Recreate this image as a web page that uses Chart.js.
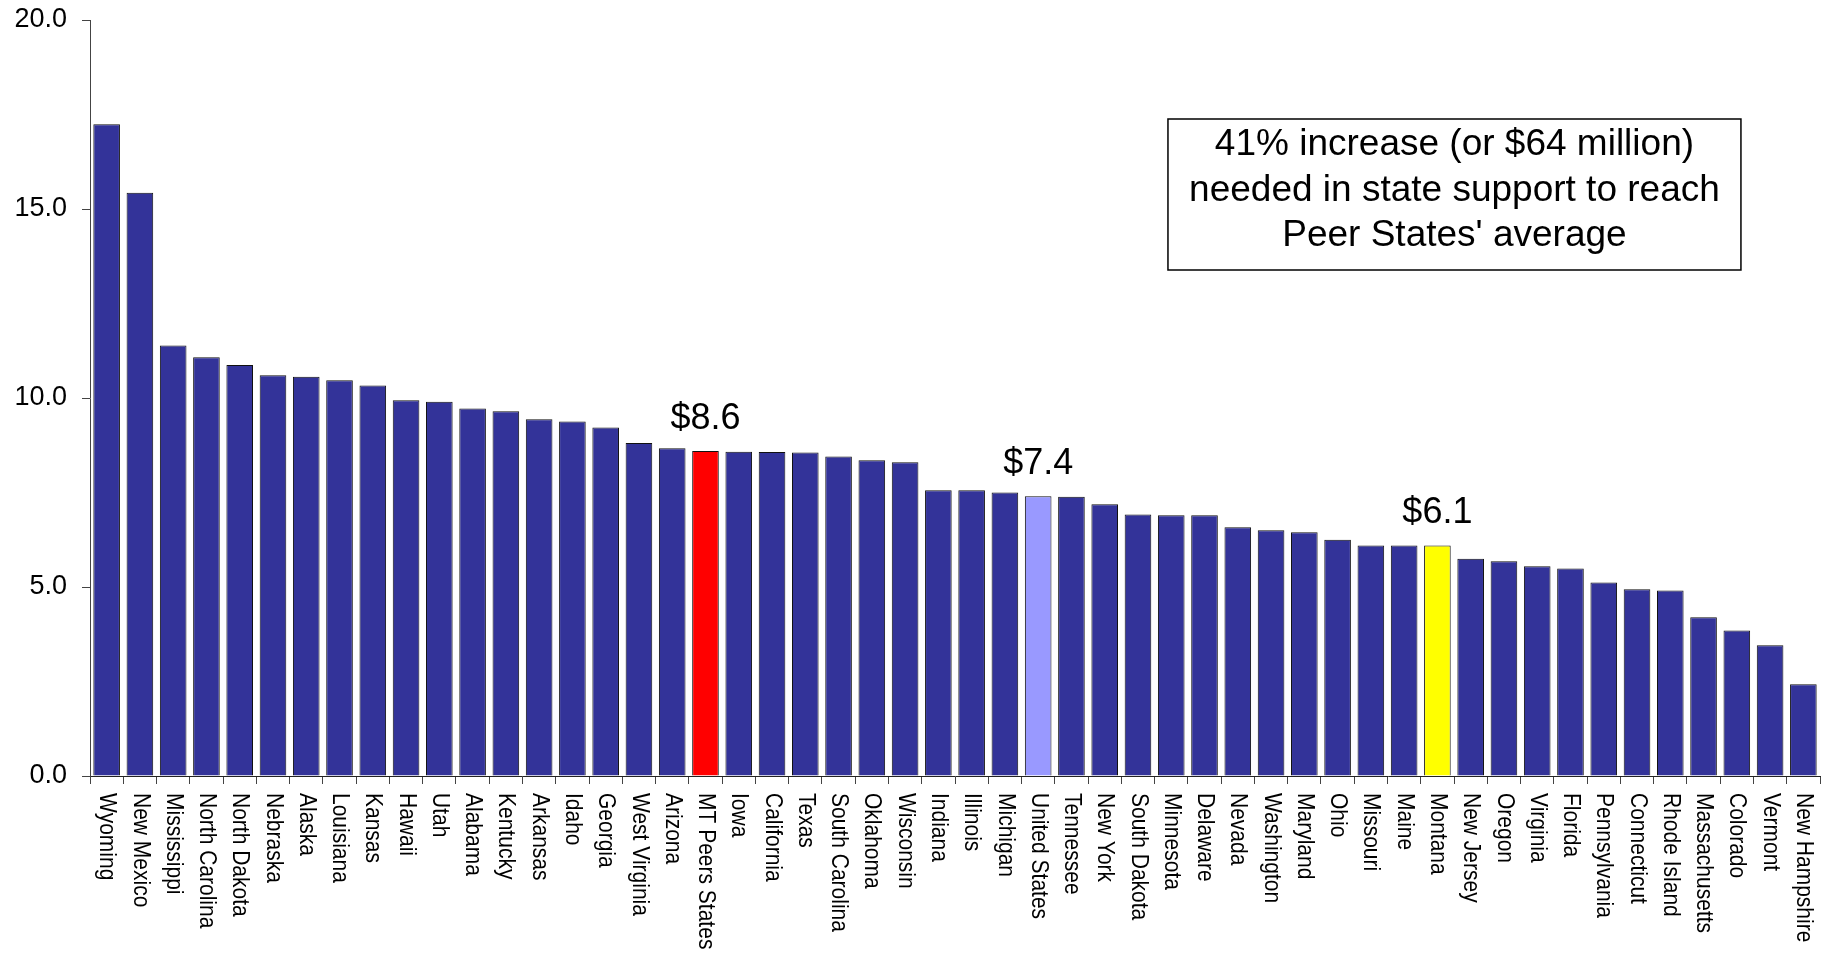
<!DOCTYPE html>
<html>
<head>
<meta charset="utf-8">
<script src="https://cdn.jsdelivr.net/npm/chart.js@4.4.1/dist/chart.umd.min.js"></script>
<style>
    html, body { margin: 0; padding: 0; background: #fff; }
    #wrap { width: 1833px; height: 954px; position: relative; }
</style>
</head>
<body>
<div id="wrap"><canvas id="supportChart"></canvas></div>
<script>
const states = [
    "Wyoming", "New Mexico", "Mississippi", "North Carolina", "North Dakota",
    "Nebraska", "Alaska", "Louisiana", "Kansas", "Hawaii", "Utah", "Alabama",
    "Kentucky", "Arkansas", "Idaho", "Georgia", "West Virginia", "Arizona",
    "MT Peers States", "Iowa", "California", "Texas", "South Carolina",
    "Oklahoma", "Wisconsin", "Indiana", "Illinois", "Michigan", "United States",
    "Tennessee", "New York", "South Dakota", "Minnesota", "Delaware", "Nevada",
    "Washington", "Maryland", "Ohio", "Missouri", "Maine", "Montana",
    "New Jersey", "Oregon", "Virginia", "Florida", "Pennsylvania",
    "Connecticut", "Rhode Island", "Massachusetts", "Colorado", "Vermont",
    "New Hampshire"
];

const support = [
    17.24, 15.43, 11.39, 11.08, 10.87,
    10.60, 10.56, 10.47, 10.33, 9.94, 9.90, 9.72,
    9.65, 9.44, 9.38, 9.22, 8.81, 8.67,
    8.6, 8.58, 8.57, 8.56, 8.45,
    8.35, 8.30, 7.56, 7.56, 7.50, 7.4,
    7.39, 7.19, 6.92, 6.90, 6.90, 6.58,
    6.50, 6.45, 6.25, 6.10, 6.10, 6.1,
    5.75, 5.68, 5.55, 5.49, 5.12,
    4.94, 4.91, 4.20, 3.85, 3.46,
    2.43
];

const yTicks = [0, 5, 10, 15, 20];
const calloutStates = ["MT Peers States", "United States", "Montana"];
const noteLines = [
    "41% increase (or $64 million)",
    "needed in state support to reach",
    "Peer States' average"
];

const FONT = "'Liberation Sans', Arial, Helvetica, sans-serif";
const highlight = {
    "MT Peers States": "#ff0000",
    "United States": "#9999ff",
    "Montana": "#ffff00"
};
const barColors = states.map(s => highlight[s] || "#333399");

// rotated state names, the three dollar callouts and the note box
const extras = {
    id: "extras",
    afterDraw(chart) {
        const ctx = chart.ctx;
        const x = chart.scales.x;
        const area = chart.chartArea;
        const bars = chart.getDatasetMeta(0).data;

        ctx.save();
        ctx.fillStyle = "#000";
        ctx.font = "21px " + FONT;
        ctx.textAlign = "left";
        ctx.textBaseline = "middle";
        states.forEach((name, i) => {
            ctx.save();
            ctx.translate(x.getPixelForTick(i), area.bottom + 17);
            ctx.rotate(Math.PI / 2);
            ctx.scale(1, 1.1);
            ctx.fillText(name, 0, 0);
            ctx.restore();
        });

        ctx.font = "36px " + FONT;
        ctx.textAlign = "center";
        ctx.textBaseline = "alphabetic";
        calloutStates.forEach(name => {
            const i = states.indexOf(name);
            const bar = bars[i];
            ctx.fillText("$" + support[i].toFixed(1), bar.x, bar.y - 22);
        });

        const w = area.right - area.left;
        const boxL = area.left + w * 0.6231;
        const boxR = area.left + w * 0.9543;
        const boxT = 119, boxB = 270;
        ctx.fillStyle = "#fff";
        ctx.fillRect(boxL, boxT, boxR - boxL, boxB - boxT);
        ctx.strokeStyle = "#000";
        ctx.lineWidth = 1.5;
        ctx.strokeRect(boxL, boxT, boxR - boxL, boxB - boxT);
        ctx.fillStyle = "#000";
        ctx.font = "37px " + FONT;
        ctx.textBaseline = "middle";
        const cx = (boxL + boxR) / 2;
        noteLines.forEach((line, k) => {
            ctx.fillText(line, cx, 145 + k * 45.5);
        });
        ctx.restore();
    }
};

new Chart(document.getElementById("supportChart"), {
    type: "bar",
    data: {
        labels: states,
        datasets: [{
            data: support,
            backgroundColor: barColors,
            borderColor: "#111",
            borderWidth: 1,
            barPercentage: 0.8,
            categoryPercentage: 1.0
        }]
    },
    options: {
        responsive: true,
        maintainAspectRatio: false,
        animation: false,
        layout: {
            padding: { top: 20, right: 13, left: 0, bottom: 0 }
        },
        plugins: {
            legend: { display: false },
            title: { display: false },
            tooltip: { enabled: false }
        },
        scales: {
            x: {
                grid: {
                    offset: true,
                    drawOnChartArea: false,
                    drawTicks: true,
                    tickLength: 8,
                    color: "#444"
                },
                border: { color: "#222", width: 1 },
                ticks: { display: false },
                afterFit(scale) {
                    scale.height = 178;
                }
            },
            y: {
                min: yTicks[0],
                max: yTicks[yTicks.length - 1],
                afterBuildTicks(scale) {
                    scale.ticks = yTicks.map(v => ({ value: v }));
                },
                grid: {
                    drawOnChartArea: false,
                    drawTicks: true,
                    tickLength: 8,
                    color: "#444"
                },
                border: { color: "#444", width: 1 },
                ticks: {
                    color: "#000",
                    padding: 15,
                    font: { family: FONT, size: 27 },
                    callback: v => v.toFixed(1)
                },
                afterFit(scale) {
                    scale.width = 90;
                    scale.paddingTop = 0;
                    scale.paddingBottom = 0;
                }
            }
        }
    },
    plugins: [extras]
});
</script>
</body>
</html>
